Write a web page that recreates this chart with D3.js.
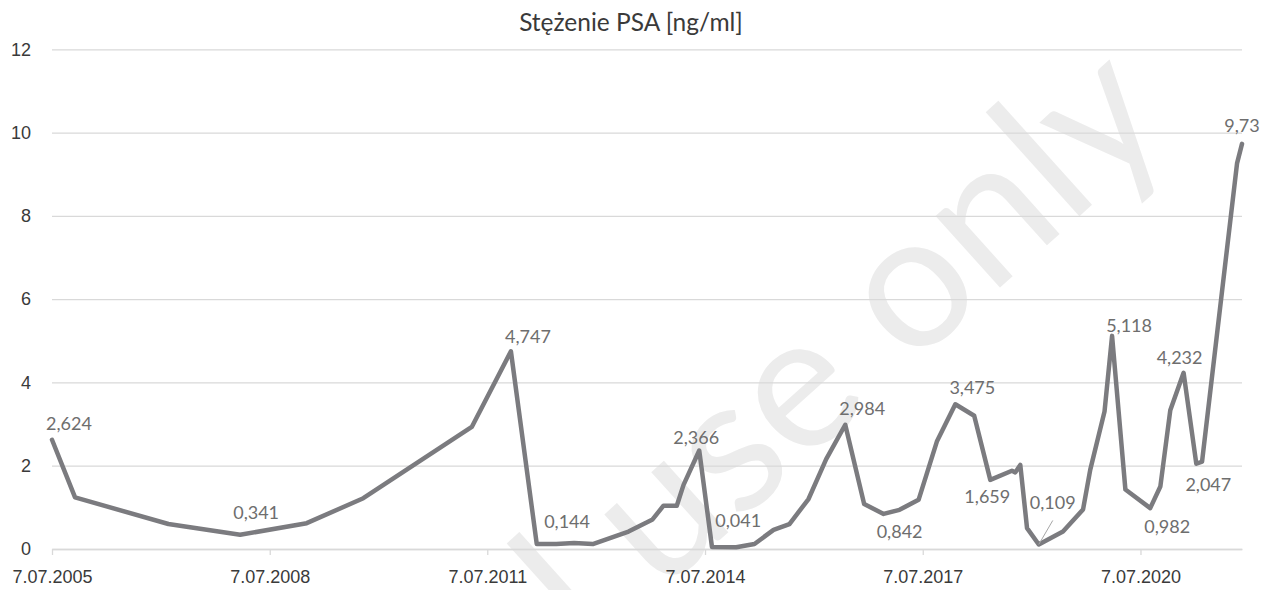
<!DOCTYPE html>
<html>
<head>
<meta charset="utf-8">
<script src="https://cdn.jsdelivr.net/npm/d3@7/dist/d3.min.js"></script>
<style>
  html, body { margin: 0; padding: 0; background: #fff; }
  svg { display: block; font-family: Lato, "Open Sans", sans-serif; }
</style>
</head>
<body>
<svg id="chart" width="1271" height="590"></svg>
<script>
// PSA readings (ng/ml) and their dates
const dates = [
  "2005-07-07", "2005-10-31", "2007-02-13", "2008-02-09", "2009-01-09", "2009-10-21",
  "2011-04-20", "2011-11-03", "2012-03-12", "2012-06-18", "2012-09-16", "2012-12-19",
  "2013-06-17", "2013-10-16", "2013-12-10", "2014-02-15", "2014-03-21", "2014-06-08",
  "2014-08-11", "2014-12-11", "2015-03-13", "2015-06-17", "2015-09-05", "2015-12-10",
  "2016-03-08", "2016-06-12", "2016-09-15", "2016-12-22", "2017-03-12", "2017-06-16",
  "2017-09-16", "2017-12-18", "2018-03-23", "2018-06-12", "2018-09-29", "2018-10-16",
  "2018-11-10", "2018-12-14", "2019-02-11", "2019-06-13", "2019-09-22", "2019-10-28",
  "2020-01-08", "2020-02-15", "2020-04-22", "2020-08-25", "2020-10-15", "2020-12-04",
  "2021-02-09", "2021-04-14", "2021-05-13", "2021-11-05", "2021-11-30"
];
const values = [
  2.624, 1.24, 0.60, 0.341, 0.62, 1.22,
  2.93, 4.747, 0.12, 0.12, 0.144, 0.12,
  0.42, 0.71, 1.04, 1.04, 1.54, 2.366,
  0.05, 0.041, 0.12, 0.46, 0.60, 1.20,
  2.16, 2.984, 1.08, 0.842, 0.94, 1.18,
  2.58, 3.475, 3.20, 1.659, 1.88, 1.84,
  2.02, 0.50, 0.109, 0.42, 0.95, 1.90,
  3.30, 5.118, 1.43, 0.982, 1.50, 3.33,
  4.232, 2.047, 2.10, 9.26, 9.73
];
const yTicks = [0, 2, 4, 6, 8, 10, 12];
const xTickDates = ["2005-07-07", "2008-07-07", "2011-07-07", "2014-07-07", "2017-07-07", "2020-07-07"];
const labelledPoints = [0, 3, 7, 10, 17, 19, 25, 27, 31, 33, 38, 43, 45, 48, 49, 52];
const title = "Stężenie PSA [ng/ml]";

// where each data label sits relative to its point (px)
const labelOffset = {
  0: [17, -10], 3: [16, -16], 7: [17, -8], 10: [-7, -15], 17: [-3, -6],
  19: [2, -20], 25: [17, -10], 27: [16, 24], 31: [17, -10], 33: [-3, 23],
  38: [14, -35], 43: [17, -4], 45: [17, 25], 48: [-4, -9], 49: [12, 27], 52: [0, -12]
};

const parse = d3.timeParse("%Y-%m-%d");
const data = dates.map((d, i) => ({ date: parse(d), value: values[i] }));

const svg = d3.select("#chart");
const plot = { left: 52, right: 1242, top: 49.3, bottom: 549 };

const x = d3.scaleTime()
  .domain([data[0].date, data[data.length - 1].date])
  .range([plot.left, plot.right]);
const y = d3.scaleLinear().domain([0, 12]).range([plot.bottom, plot.top]);

// watermark behind everything
svg.append("text")
  .attr("transform", "translate(1175,130) rotate(-42)")
  .attr("text-anchor", "end")
  .style("font-size", "190px")
  .style("fill", "#ececec")
  .text("For personal use only");

// gridlines + y labels
const yAxis = svg.append("g")
  .attr("transform", `translate(${plot.left},0)`)
  .call(d3.axisLeft(y).tickValues(yTicks).tickSize(-(plot.right - plot.left)).tickPadding(21));
yAxis.select(".domain").remove();
yAxis.selectAll(".tick line").attr("stroke", "#d9d9d9").attr("stroke-width", 1.3);
yAxis.selectAll(".tick text")
  .style("font-size", "18px").attr("fill", "#3a3a3a");

// x axis
const xAxis = svg.append("g")
  .attr("transform", `translate(0,${plot.bottom})`)
  .call(d3.axisBottom(x)
    .tickValues(xTickDates.map(parse))
    .tickFormat(d3.timeFormat("%-d.%m.%Y"))
    .tickSize(6).tickSizeOuter(0).tickPadding(15));
xAxis.select(".domain").attr("stroke", "#d9d9d9").attr("stroke-width", 1.3);
xAxis.selectAll(".tick line").attr("stroke", "#d9d9d9").attr("stroke-width", 1.3);
xAxis.selectAll(".tick text")
  .style("font-size", "18px").attr("fill", "#3a3a3a");

// title
svg.append("text")
  .attr("x", 631).attr("y", 31)
  .attr("text-anchor", "middle")
  .style("font-size", "24.5px")
  .attr("fill", "#3a3a3a")
  .text(title);

// the series
const line = d3.line().x(d => x(d.date)).y(d => y(d.value));
svg.append("path")
  .datum(data)
  .attr("d", line)
  .attr("fill", "none")
  .attr("stroke", "#7b7b7f")
  .attr("stroke-width", 4.5)
  .attr("stroke-linejoin", "round")
  .attr("stroke-linecap", "round");

// leader line for the crowded 0,109 label
const lead = data[38];
svg.append("line")
  .attr("x1", x(lead.date)).attr("y1", y(lead.value))
  .attr("x2", x(lead.date) + 14).attr("y2", y(lead.value) - 24)
  .attr("stroke", "#a6a6a6").attr("stroke-width", 1);

// data labels
svg.append("g")
  .selectAll("text")
  .data(labelledPoints)
  .join("text")
  .attr("x", i => x(data[i].date) + labelOffset[i][0])
  .attr("y", i => y(data[i].value) + labelOffset[i][1])
  .attr("text-anchor", "middle")
  .style("font-size", "18px")
  .attr("fill", "#6e6e6e")
  .text(i => String(data[i].value).replace(".", ","));
</script>
</body>
</html>
